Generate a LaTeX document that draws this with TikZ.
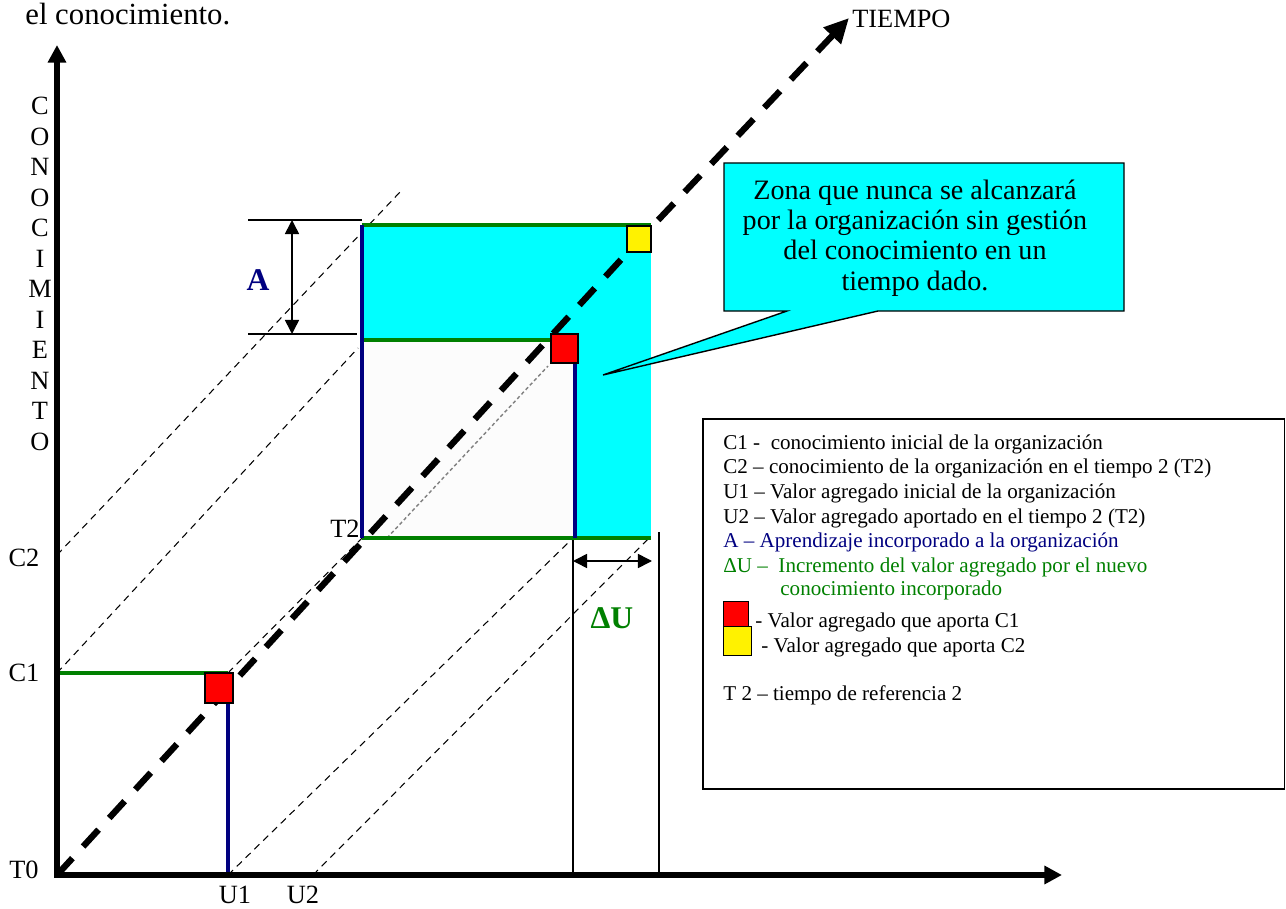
\documentclass[tikz,border=0pt]{standalone}
\usepackage{fontspec}
\setmainfont{Liberation Serif}
\usepackage{xcolor}
\usepackage{tikz}
\usetikzlibrary{arrows.meta,positioning,calc}
\definecolor{zonaazul}{HTML}{00FFFF}
\definecolor{verdeC}{HTML}{008000}
\definecolor{azulU}{HTML}{000080}

\begin{document}
\begin{tikzpicture}[x=0.02cm,y=-0.02cm,
  eje/.style   ={line width=3pt,line cap=rect,-{Triangle[length=10pt,width=10pt]}},
  tiempo/.style={line width=3.6pt,dash pattern=on 13pt off 9pt,-{Triangle[length=14pt,width=13pt]}},
  proy/.style  ={line width=0.6pt,dash pattern=on 4pt off 3pt},
  nivelC/.style={line width=2.6pt,draw=verdeC},
  nivelU/.style={line width=2.6pt,draw=azulU},
  cota/.style  ={line width=0.9pt,{Triangle[length=8pt,width=8pt]}-{Triangle[length=8pt,width=8pt]}},
  guia/.style  ={line width=0.7pt},
  cuadro/.style={draw,line width=0.8pt,inner sep=0pt},
  etq/.style   ={font=\fontsize{15}{17}\selectfont,inner sep=0pt},
  ley/.style   ={font=\fontsize{12}{14}\selectfont,inner sep=0pt,anchor=base west},
]
\useasboundingbox (0,0) rectangle (1286,909);
\node[anchor=base west,inner sep=0pt,font=\fontsize{17.5}{20}\selectfont] (titulo) at (25,25) {el conocimiento.};

\coordinate (T0)   at (57,875);
\coordinate (C1)   at (57,673);
\coordinate (C2)   at (57,555);
\coordinate (U1)   at (228,875);
\coordinate (U2)   at (313,875);
\coordinate (P1)   at (228,673);
\coordinate (T2)   at (362,538);
\coordinate (P2)   at (575,340);
\coordinate (P3)   at (651,225);
\coordinate (codo) at (628,252);
\coordinate (tfin) at (849,18);

\draw[proy] (C2) -- (400,192);
\draw[proy] (C1) -- (358,348);
\draw[proy] (P1) -- (T2);
\draw[proy] (U1) -- (573,538);
\draw[proy] (U2) -- (651,536);

\fill[zonaazul] (T2) rectangle (P3);
\fill[white!99!black] (T2) rectangle (P2);

\draw[line width=0.8pt,fill=zonaazul] (724,163) -- (1124,163) -- (1124,311) -- (878,311)
  -- (603,375) -- (787,311) -- (724,311) -- cycle;
\node[align=center,font=\fontsize{16}{17.2}\selectfont,inner sep=0pt] (zona) at (915,238)
  {Zona que nunca se alcanzará\\por la organización sin gestión\\del conocimiento en un\\tiempo dado.};

\draw[gray,line width=0.8pt,dash pattern=on 2pt off 1.5pt] (387,538) -- (548,366);
\node[etq] (lT2) at (345,529) {T2};

\draw[nivelC] (C1) -- (P1);
\draw[nivelC] (362,340) -- (551,340);
\draw[nivelC] (362,225) -- (651,225);
\draw[nivelC] (T2) -- (651,538);
\draw[nivelU] (P1) -- (U1);
\draw[nivelU] (362,225) -- (T2);
\draw[nivelU] (575,348) -- (575,538);

\draw[tiempo] (T0) -- (codo) -- (tfin);
\node[cuadro,fill=red,minimum width=0.56cm,minimum height=0.6cm] (rojo1) at (219,688) {};
\node[cuadro,fill=red,minimum width=0.54cm,minimum height=0.58cm] (rojo2) at (564.5,348.5) {};
\node[cuadro,fill=yellow,minimum width=0.48cm,minimum height=0.52cm] (amarillo) at (639,239) {};

\draw[eje] (T0) -- (57,45);
\draw[eje] (T0) -- (1062,875);
\node[etq] (lT0) at (24,870) {T0};
\node[etq] (lC1) at (24,673) {C1};
\node[etq] (lC2) at (24,558) {C2};
\node[etq] (lU1) at (235,895) {U1};
\node[etq] (lU2) at (303,895) {U2};
\node[etq,anchor=west] (lTiempo) at (852,19) {TIEMPO};
\foreach \l [count=\i] in {C,O,N,O,C,I,M,I,E,N,T,O}
  \node[etq] (letra\i) at (40,{106+(\i-1)*30.5}) {\l};

\draw[guia] (248,220) -- (362,220);
\draw[guia] (248,334) -- (357,334);
\draw[cota] (292,220) -- (292,334);
\node[font=\bfseries\fontsize{18}{20}\selectfont,text=azulU,inner sep=0pt] (lA) at (258,280) {A};

\draw[guia] (573,540) -- (573,875);
\draw[guia] (659,532) -- (659,875);
\draw[cota] (573,561) -- (652,561);
\node[font=\bfseries\fontsize{18}{20}\selectfont,text=verdeC,inner sep=0pt] (lDU) at (612,618) {ΔU};

\node[draw,line width=0.9pt,minimum width=11.64cm,minimum height=7.4cm,inner sep=0pt,anchor=north west] (leyenda) at (702,418) {};
\node[ley] (l1) at (723,449) {C1 -\ \ conocimiento inicial de la organización};
\node[ley] (l2) at (723,473) {C2 – conocimiento de la organización en el tiempo 2 (T2)};
\node[ley] (l3) at (723,498) {U1 – Valor agregado inicial de la organización};
\node[ley] (l4) at (723,523) {U2 – Valor agregado aportado en el tiempo 2 (T2)};
\node[ley,text=azulU] (l5) at (723,547) {A – Aprendizaje incorporado a la organización};
\node[ley,text=verdeC] (l6) at (723,572) {ΔU –\ \ Incremento del valor agregado por el nuevo};
\node[ley,text=verdeC] (l7) at (780,595) {conocimiento incorporado};
\node[cuadro,fill=red,minimum width=0.5cm,minimum height=0.5cm,anchor=north west] (rojoL) at (723,601) {};
\node[cuadro,fill=yellow,minimum width=0.56cm,minimum height=0.58cm,anchor=north west] (amarilloL) at (723,626) {};
\node[ley] (l8) at (755,627) {- Valor agregado que aporta C1};
\node[ley] (l9) at (761,652) {- Valor agregado que aporta C2};
\node[ley] (l10) at (723,700) {T 2 – tiempo de referencia 2};
\end{tikzpicture}
\end{document}
